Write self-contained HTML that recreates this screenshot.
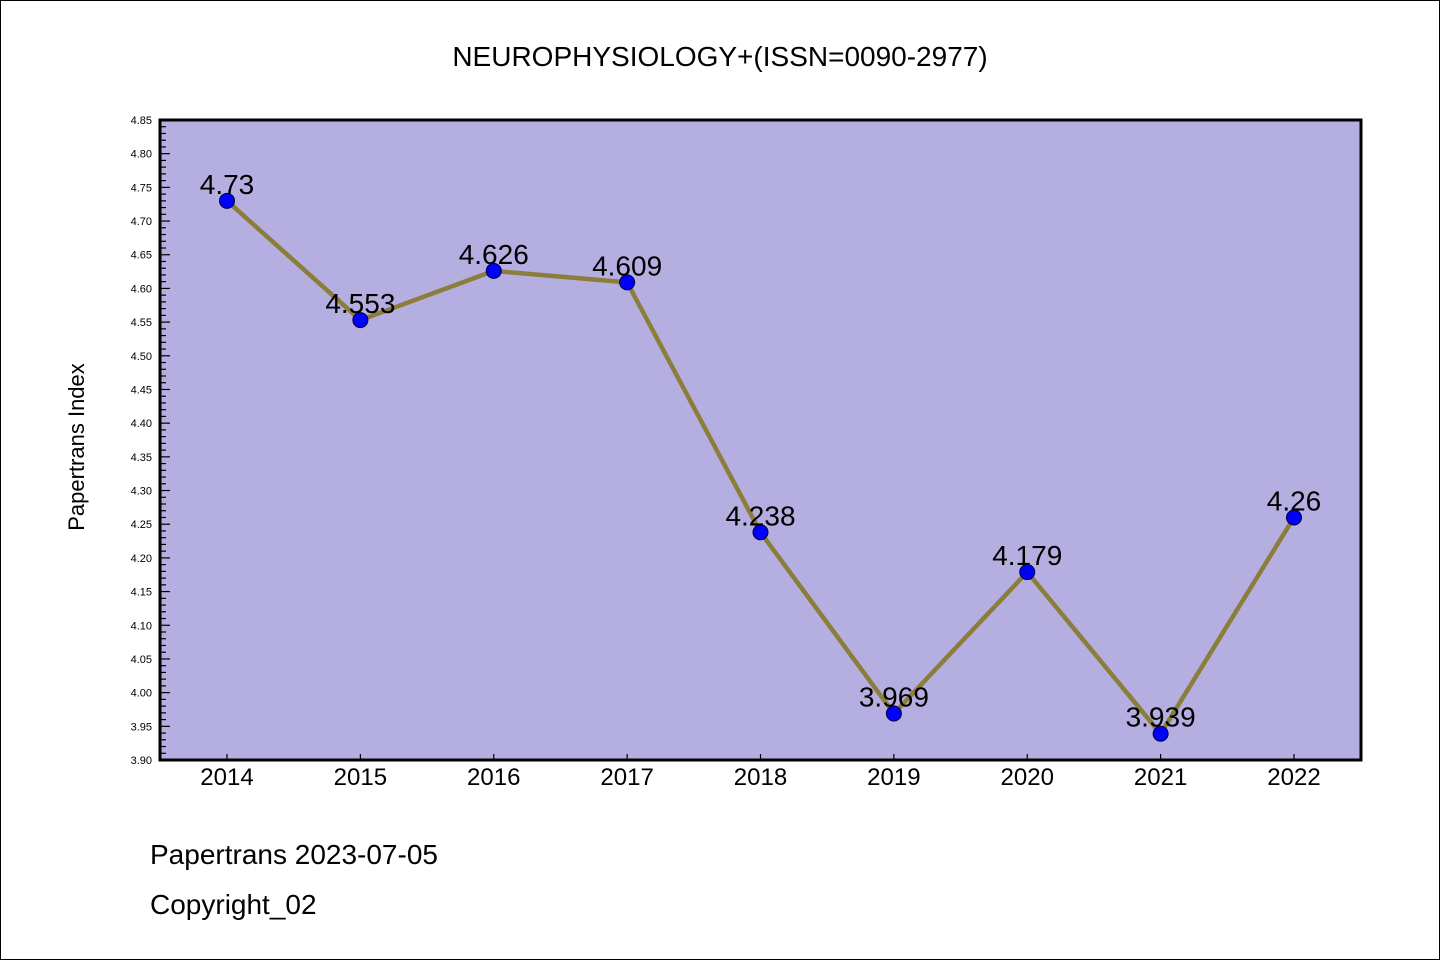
<!DOCTYPE html>
<html><head><meta charset="utf-8"><style>
body{margin:0;background:#fff}
svg{display:block}
text{font-family:"Liberation Sans","Noto Sans CJK SC",sans-serif}
</style></head><body>
<svg id="c" width="1440" height="960" xmlns="http://www.w3.org/2000/svg">
<rect x="0.5" y="0.5" width="1439" height="959" fill="#fff" stroke="#000"/>
<text x="720" y="66" font-size="28" text-anchor="middle" font-family="Liberation Mono, monospace">NEUROPHYSIOLOGY+(ISSN=0090-2977)</text>
<rect x="160" y="120" width="1201" height="640" fill="#b5aee1"/>
<g id="yaxis"></g>
<g id="xaxis"></g>
<g id="series"></g>
<rect x="160" y="120" width="1201" height="640" fill="none" stroke="#000" stroke-width="3"/>
<text transform="translate(84,447) rotate(-90)" font-size="22" text-anchor="middle" font-family="Liberation Mono, monospace">Papertrans Index</text>
<text x="150" y="864" font-size="28" font-family="Liberation Mono, monospace">Papertrans 2023-07-05</text>
<text x="150" y="914" font-size="28" font-family="Liberation Mono, monospace">Copyright_02</text>
</svg>
<script>
const years=["2014","2015","2016","2017","2018","2019","2020","2021","2022"];
const values=[4.73,4.553,4.626,4.609,4.238,3.969,4.179,3.939,4.26];
const valueLabels=["4.73","4.553","4.626","4.609","4.238","3.969","4.179","3.939","4.26"];
const yMin=3.90,yMax=4.85;
const NS="http://www.w3.org/2000/svg";
const L=160,R=1361,T=120,B=760;
function y(v){return B-(v-yMin)/(yMax-yMin)*(B-T);}
function x(i){return 227+i*(1294-227)/(years.length-1);}
function mk(t,a,p){const e=document.createElementNS(NS,t);for(const k in a)e.setAttribute(k,a[k]);p.appendChild(e);return e;}
const ya=document.getElementById('yaxis'),xa=document.getElementById('xaxis'),sr=document.getElementById('series');
for(let k=0;k<=95;k++){
  const v=yMin+k*0.01,yy=y(v),major=k%5===0;
  const tk=mk('line',{x1:L,x2:L+(major?10:6),y1:yy,y2:yy,stroke:'#000','stroke-width':1.2},ya);
  
  
  if(major){
    const t=mk('text',{x:152,y:yy+4,'font-size':11,'text-anchor':'end'},ya);
    
    
    t.textContent=v.toFixed(2);
  }
}
years.forEach((yr,i)=>{
  const tk=mk('line',{x1:x(i),x2:x(i),y1:B,y2:B-6,stroke:'#000','stroke-width':1.2},xa);
  
  
  const t=mk('text',{x:x(i),y:785,'font-size':24,'text-anchor':'middle'},xa);
  
  
  t.textContent=yr;
});
const pl=mk('polyline',{points:values.map((v,i)=>x(i)+','+y(v)).join(' '),fill:'none',stroke:'#8b7d3a','stroke-width':4.5,'stroke-linejoin':'round'},sr);


values.forEach((v,i)=>{
  const c=mk('circle',{cx:x(i),cy:y(v),r:7.5,fill:'#0000ff',stroke:'#00003a','stroke-width':1},sr);
  
  
  const t=mk('text',{x:x(i),y:y(v)-7,'font-size':28,'text-anchor':'middle'},sr);
  
  
  t.textContent=valueLabels[i];
});
</script>
</body></html>
